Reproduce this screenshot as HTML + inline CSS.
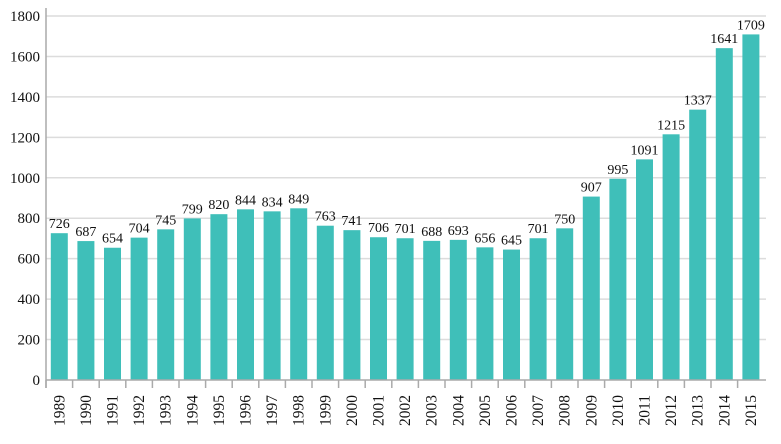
<!DOCTYPE html>
<html><head><meta charset="utf-8"><style>
body{margin:0;background:#fff}
svg text{font-family:"Liberation Serif",serif;font-size:14px;fill:#111}
svg text.yt{font-size:15px}
svg text.xt{font-size:15.5px}
</style></head><body>
<svg id="c" width="781" height="439"></svg>
<script>
const years=[1989,1990,1991,1992,1993,1994,1995,1996,1997,1998,1999,2000,2001,2002,2003,2004,2005,2006,2007,2008,2009,2010,2011,2012,2013,2014,2015];
const values=[726,687,654,704,745,799,820,844,834,849,763,741,706,701,688,693,656,645,701,750,907,995,1091,1215,1337,1641,1709];
const yTicks=[0,200,400,600,800,1000,1200,1400,1600,1800];
const svg=document.getElementById('c');
const NS='http://www.w3.org/2000/svg';
const x0=46,band=26.6,y0=380,yTop=16,yMax=1800;
const y=v=>y0-(v/yMax)*(y0-yTop);
const xc=i=>x0+band*(i+0.5);
function mk(t,a){const e=document.createElementNS(NS,t);for(const k in a)e.setAttribute(k,a[k]);svg.appendChild(e);return e;}
yTicks.forEach(t=>{
  if(t>0){const g=mk('line',{x1:x0,x2:766,y1:y(t),y2:y(t),stroke:'#dcdcdc','stroke-width':1.5});
  
  }
  const l=mk('text',{x:x0-6,y:y(t)+5,'text-anchor':'end','class':'yt'});l.textContent=t;
  
  
});
years.forEach((yr,i)=>{
  const v=values[i];
  const r=mk('rect',{x:xc(i)-8.5,y:y(v),width:17,height:y0-y(v),fill:'#3fbfb9'});
  
  
  const t=mk('text',{x:xc(i),y:y(v)-5,'text-anchor':'middle'});t.textContent=v;
  
  
  const tk=mk('line',{x1:x0+band*i,x2:x0+band*i,y1:y0,y2:y0+8,stroke:'#aaa','stroke-width':1.5});
  
  
  const xl=mk('text',{x:0,y:0,'text-anchor':'end','class':'xt',transform:`translate(${xc(i)+5},${395}) rotate(-90)`});xl.textContent=yr;
  
  
});
const ax=mk('line',{x1:x0,x2:766,y1:y0,y2:y0,stroke:'#aaa','stroke-width':1.5});


const ay=mk('line',{x1:x0,x2:x0,y1:8,y2:y0+8,stroke:'#aaa','stroke-width':1.5});


</script>
</body></html>
